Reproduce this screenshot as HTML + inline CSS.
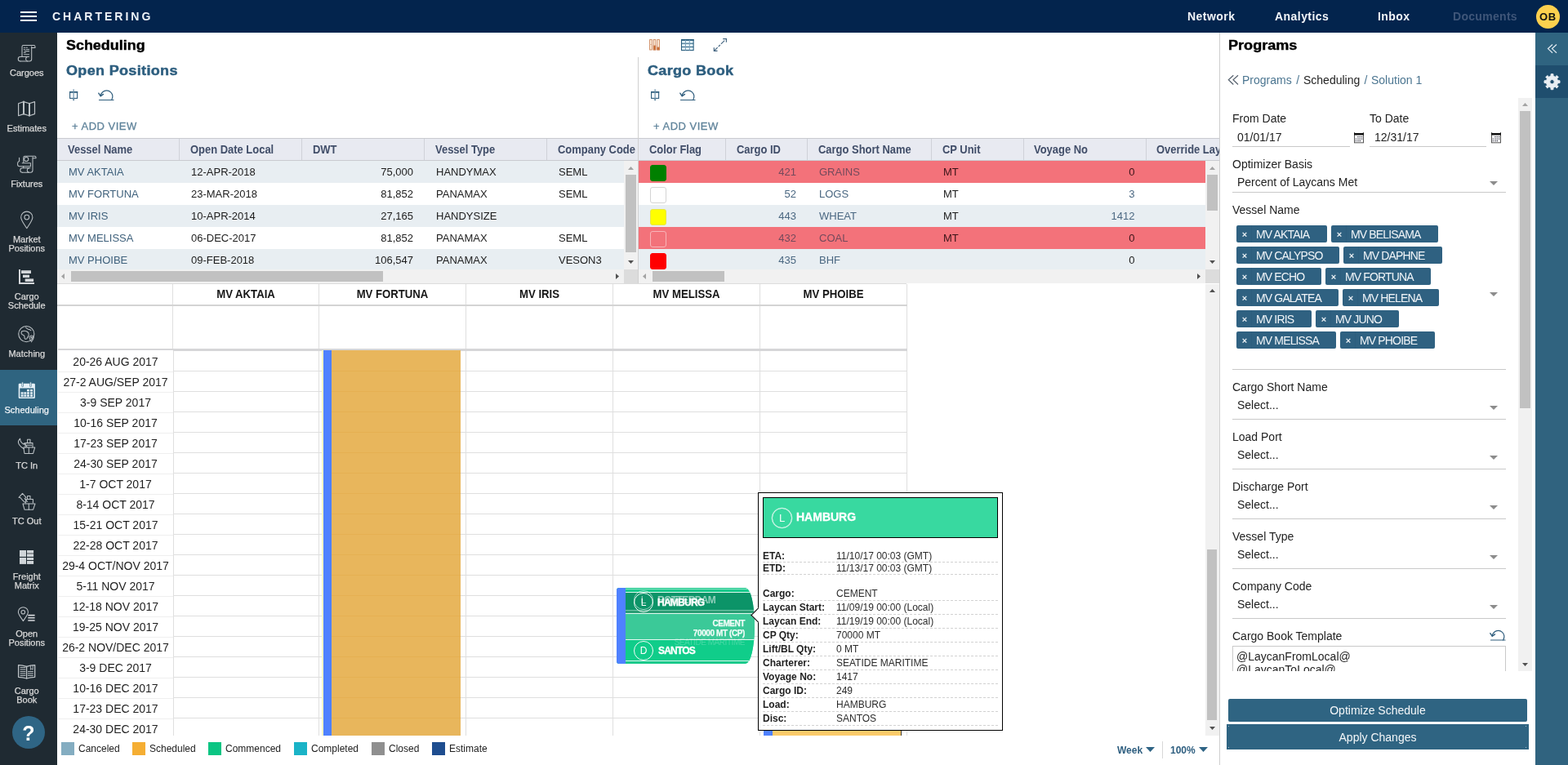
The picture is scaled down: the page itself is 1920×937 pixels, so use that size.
<!DOCTYPE html>
<html lang="en"><head><meta charset="utf-8"><title>Chartering - Scheduling</title>
<style>
*{box-sizing:border-box;margin:0;padding:0}
html,body{width:1920px;height:937px;overflow:hidden;background:#fff}
body{font-family:"Liberation Sans",Arial,sans-serif;font-size:14px;color:#222}
#root{position:relative;width:1920px;height:937px;overflow:hidden;background:#fff}
.t{position:absolute;white-space:nowrap}
.b{position:absolute}
.abs{position:absolute}
svg{position:absolute;overflow:visible}
</style></head><body><div id="root">
<header class="b" style="left:0;top:0;width:1920px;height:40px;background:#03244d">
<div class="b" style="left:25px;top:14px;width:20px;height:2px;background:#fff;"></div>
<div class="b" style="left:25px;top:19px;width:20px;height:2px;background:#fff;"></div>
<div class="b" style="left:25px;top:24px;width:20px;height:2px;background:#fff;"></div>
<div class="t" style="left:64px;top:11px;font-size:14px;line-height:18px;color:#eef2f7;font-weight:bold;letter-spacing:3px;">CHARTERING</div>
<div class="t" style="left:1454px;top:10.75px;font-size:14px;line-height:18px;color:#f2f5f9;font-weight:bold;letter-spacing:0.45px;">Network</div>
<div class="t" style="left:1561px;top:10.75px;font-size:14px;line-height:18px;color:#f2f5f9;font-weight:bold;letter-spacing:0.45px;">Analytics</div>
<div class="t" style="left:1687px;top:10.75px;font-size:14px;line-height:18px;color:#f2f5f9;font-weight:bold;letter-spacing:0.45px;">Inbox</div>
<div class="t" style="left:1779px;top:10.75px;font-size:14px;line-height:18px;color:#3f5679;font-weight:bold;letter-spacing:0.3px;">Documents</div>
<div class="b" style="left:1880.5px;top:5.5px;width:29px;height:29px;border-radius:50%;background:#fdd04e"></div>
<div class="t" style="left:1880px;top:11.8px;font-size:13px;line-height:17px;color:#111;font-weight:bold;letter-spacing:0.6px;width:30.6px;text-align:center;">OB</div>
</header>
<nav class="b" style="left:0;top:40px;width:70px;height:897px;background:#1f2a32">
<div class="b" style="left:0px;top:413px;width:70px;height:68px;background:#2f6480;"></div>
<div class="t" style="left:0px;top:43px;font-size:11px;line-height:12px;color:#d9d9d9;width:65.5px;text-align:center;-webkit-text-stroke:.25px #d9d9d9;">Cargoes</div>
<div class="t" style="left:0px;top:111px;font-size:11px;line-height:12px;color:#d9d9d9;width:65.5px;text-align:center;-webkit-text-stroke:.25px #d9d9d9;">Estimates</div>
<div class="t" style="left:0px;top:179px;font-size:11px;line-height:12px;color:#d9d9d9;width:65.5px;text-align:center;-webkit-text-stroke:.25px #d9d9d9;">Fixtures</div>
<div class="t" style="left:0;top:247px;width:65.5px;text-align:center;font-size:11px;line-height:11px;padding-top:.5px;color:#d9d9d9;-webkit-text-stroke:.25px #d9d9d9">Market<br>Positions</div>
<div class="t" style="left:0;top:317px;width:65.5px;text-align:center;font-size:11px;line-height:11px;padding-top:.5px;color:#d9d9d9;-webkit-text-stroke:.25px #d9d9d9">Cargo<br>Schedule</div>
<div class="t" style="left:0px;top:387px;font-size:11px;line-height:12px;color:#d9d9d9;width:65.5px;text-align:center;-webkit-text-stroke:.25px #d9d9d9;">Matching</div>
<div class="t" style="left:0px;top:456px;font-size:11px;line-height:12px;color:#eef3f6;width:65.5px;text-align:center;-webkit-text-stroke:.25px #eef3f6;">Scheduling</div>
<div class="t" style="left:0px;top:524px;font-size:11px;line-height:12px;color:#d9d9d9;width:65.5px;text-align:center;-webkit-text-stroke:.25px #d9d9d9;">TC In</div>
<div class="t" style="left:0px;top:592px;font-size:11px;line-height:12px;color:#d9d9d9;width:65.5px;text-align:center;-webkit-text-stroke:.25px #d9d9d9;">TC Out</div>
<div class="t" style="left:0;top:660px;width:65.5px;text-align:center;font-size:11px;line-height:11px;padding-top:.5px;color:#d9d9d9;-webkit-text-stroke:.25px #d9d9d9">Freight<br>Matrix</div>
<div class="t" style="left:0;top:730px;width:65.5px;text-align:center;font-size:11px;line-height:11px;padding-top:.5px;color:#d9d9d9;-webkit-text-stroke:.25px #d9d9d9">Open<br>Positions</div>
<div class="t" style="left:0;top:800px;width:65.5px;text-align:center;font-size:11px;line-height:11px;padding-top:.5px;color:#d9d9d9;-webkit-text-stroke:.25px #d9d9d9">Cargo<br>Book</div>
<svg style="left:0;top:-40px" width="70" height="937" viewBox="0 0 70 937" fill="none" stroke="#bcc2c6" stroke-width="1.05" stroke-linejoin="round" stroke-linecap="round">
<!-- cargoes -->
<g>
<path d="M27 69.5V57.2q0-1.7 1.7-1.7H41.3q1.7 0 1.7 1.7V58.4H39"/>
<path d="M38.7 57V72.3q0 2.7-2.7 2.7H25"/>
<path d="M25 75a2.75 2.75 0 0 1 0-5.5H35.5"/>
<path d="M33.6 69.6a2.75 2.75 0 0 0 0 5.3"/>
<path d="M29.3 58.2h1.2M32 58.2h1.4M29.3 60.4h1.2M32 60.4h3.6M30 62.6h5.6M29.3 64.4h2M29.6 66.7h6" stroke="#aeb6bb"/>
</g>
<!-- estimates -->
<g stroke-width="1.2">
<path d="M22.6 126.7L29 124.6L36 126.7L42.5 124.6V139.6L36 141.7L29 139.6L22.6 141.7Z"/>
<path d="M29 124.6V139.6M36 126.7V141.7" stroke-width="2"/>
</g>
<!-- fixtures -->
<g>
<path d="M28.8 199V193q0-1.8 1.8-1.8H42.4q1.6 0 1.6 1.6V193.8H40.5"/>
<path d="M40 192.5V208.5q0 2.7-2.7 2.7H27.5"/>
<path d="M27.5 211.2a2.7 2.7 0 0 1 0-5.4H37"/>
<path d="M35.2 205.9a2.7 2.7 0 0 0 0 5.2"/>
<circle cx="32.2" cy="195" r="2.6"/>
<path d="M23.6 193.2v4.2M23.6 197.4q-2 .3-2 2.6v1.6q0 2.2 2.2 2.2H37.4V199.8H27.2"/>
<path d="M28.7 203.8v2"/>
</g>
<!-- market positions -->
<g>
<path d="M32.8 279.6C28.5 273 25.7 269.6 25.7 266.2a7.1 7.1 0 0 1 14.2 0C39.9 269.6 37.1 273 32.8 279.6Z"/>
<circle cx="32.8" cy="266.1" r="2.9"/>
</g>
<!-- cargo schedule -->
<g stroke="none" fill="#d3d6da">
<rect x="23" y="330" width="2" height="18"/><rect x="23" y="346" width="19" height="2"/>
<rect x="26" y="331.2" width="12" height="3.8"/><rect x="28" y="336.6" width="8" height="3.4"/><rect x="30.7" y="341.4" width="10.4" height="3.6"/>
</g>
<!-- matching -->
<g>
<circle cx="32.3" cy="409.1" r="9.6"/>
<path d="M31.5 401q1.5 1.6 3 2.2q2.2.2 3.4 1.4M26.5 406q2.5-1.2 5-.6q2 .4 3.2 2.2q.8 1.6.3 3.4q-.6 1.8-1.8 3.2q-1.2 1.6-2.6.8q-.8-1-.6-2.6q0-1.4-1.4-1.8q-2-.6-2.4-2.2q-.3-1.4.3-2.4Z"/>
<path d="M38.6 418.6q-2.6-3-2.6-5a2.6 2.6 0 0 1 5.2 0q0 2-2.6 5Z" stroke-width="1"/>
<circle cx="38.6" cy="413.4" r=".7"/>
</g>
<!-- scheduling -->
<g stroke="none" fill="#e6f1f8">
<path d="M22.7 471q0-1.2 1.2-1.2H41.7q1.2 0 1.2 1.2V486.8q0 1.2-1.2 1.2H23.9q-1.2 0-1.2-1.2ZM24.3 475.4V486.4H41.3V475.4Z" fill-rule="evenodd"/>
<rect x="26.7" y="467.8" width="1.8" height="6" rx=".9" stroke="#2f6480" stroke-width=".6"/>
<rect x="36.6" y="467.8" width="1.8" height="6" rx=".9" stroke="#2f6480" stroke-width=".6"/>
<rect x="33" y="477" width="3" height="2.4"/><rect x="37" y="477" width="3" height="2.4"/>
<rect x="25.6" y="480.3" width="3" height="2.4"/><rect x="29.3" y="480.3" width="3" height="2.4"/><rect x="33" y="480.3" width="3" height="2.4"/><rect x="37" y="480.3" width="3" height="2.4"/>
<rect x="25.6" y="483.4" width="3" height="2.4"/><rect x="29.3" y="483.4" width="3" height="2.4"/><rect x="33" y="483.4" width="3" height="2.4"/><rect x="37" y="483.4" width="3" height="2.4"/>
</g>
<!-- tc in -->
<g>
<path d="M30 555.4L28.8 548H42.7L40.6 555.4Z"/><path d="M35.3 548V555.4"/>
<path d="M31 548V542.6H40V548"/><path d="M32.6 545.3H38.6"/><path d="M33.6 542.6V538.3H37V542.6"/>
<path d="M24.6 537.2Q21 541 23.4 544.5Q26 548.3 29.4 549.8M24.6 537.2Q24.6 541.5 29.3 544.3L29.8 542.6L33.2 547.6"/>
</g>
<!-- tc out -->
<g>
<path d="M30 624.2L28 617H43L40.6 624.2Z"/><path d="M35.3 617V624.2"/>
<path d="M31.6 616V611.4H40.4V616"/><path d="M33.6 611.4V607.4H37V611.4"/>
<path d="M23 609.3L27.5 604.3L32 609.4L30.2 610.6L33.4 614.4M23 609.3L25.2 609.8Q27.3 613 30.5 615.2"/>
</g>
<!-- freight matrix -->
<g stroke="none" fill="#d0d5d9">
<rect x="24" y="674" width="8" height="7.9"/><rect x="24" y="683" width="8" height="7.9"/>
<rect x="33" y="674" width="8.1" height="3"/><rect x="33" y="677" width="8.1" height="2" fill="#8e9398"/><rect x="33" y="679" width="8.1" height="2.9"/>
<rect x="33" y="683" width="8.1" height="3"/><rect x="33" y="687" width="8.1" height="3.9"/>
</g>
<!-- open positions -->
<g>
<path d="M28.4 760.6C25 755.3 22.4 752.6 22.4 749.7a6 6 0 0 1 12 0C34.4 752.6 31.8 755.3 28.4 760.6Z"/>
<circle cx="28.3" cy="749.7" r="2.3"/>
<path d="M34.3 753.6H42.6M34.3 756.8H42.6M34.3 760H42.6" stroke-width="1.6" stroke-linecap="butt" stroke="#d5d8db"/>
</g>
<!-- cargo book -->
<g>
<path d="M22.6 814.6Q27.5 814.6 32.6 816.3Q37.5 814.6 42.7 814.6V829.3Q37.5 829.3 32.6 831Q27.5 829.3 22.6 829.3Z" stroke-width="1.3"/>
<path d="M32.6 816.3V831" stroke-width="1.3"/>
<path d="M25 817.6H31M25 820H31M25 822.6H31M25 825H31M25 827.4H31M34.4 822.6H40.4M34.4 825H40.4M34.4 827.4H40.4" stroke-width="1"/>
<path d="M37.4 815.6V820.3L38.8 819L40.2 820.3V815" stroke-width=".9"/>
</g>
</svg>
<div class="b" style="left:15px;top:837px;width:40px;height:40px;border-radius:50%;background:#2f6585"></div>
<div class="t" style="left:15px;top:843.5px;font-size:25px;line-height:28px;color:#fff;font-weight:bold;width:40px;text-align:center;">?</div>
</nav>
<main class="b" style="left:70px;top:40px;width:1424px;height:897px;background:#fff">
<div class="t" style="left:10.5px;top:6px;font-size:16px;line-height:20px;color:#000;font-weight:bold;transform:scaleX(1.12);transform-origin:0 50%;-webkit-text-stroke:0.4px #000;">Scheduling</div>
<div class="t" style="left:10.5px;top:36.7px;font-size:16px;line-height:20px;color:#2d5e7f;font-weight:bold;letter-spacing:0.3px;transform:scaleX(1.125);transform-origin:0 50%;-webkit-text-stroke:0.45px #2d5e7f;">Open Positions</div>
<div class="t" style="left:722.5px;top:36.7px;font-size:16px;line-height:20px;color:#2d5e7f;font-weight:bold;letter-spacing:0.3px;transform:scaleX(1.125);transform-origin:0 50%;-webkit-text-stroke:0.45px #2d5e7f;">Cargo Book</div>
<div class="t" style="left:18px;top:105.5px;font-size:13px;line-height:17px;color:#62859c;letter-spacing:0.5px;-webkit-text-stroke:.3px #62859c;">+ ADD VIEW</div>
<div class="t" style="left:730px;top:105.5px;font-size:13px;line-height:17px;color:#62859c;letter-spacing:0.5px;-webkit-text-stroke:.3px #62859c;">+ ADD VIEW</div>
<svg style="left:-70px;top:-40px" width="1494" height="200" viewBox="0 0 1494 200" fill="none" stroke="#2f5d7d" stroke-width="1.2">
<g id="pin1">
<rect x="85.6" y="112.6" width="9" height="7.8" stroke-width="1.1"/>
<path d="M85 112.8H95.2" stroke-width="1.8"/>
<path d="M90.1 109.3V122.5" stroke="#6f93ab"/>
<path d="M88.6 121.4L90.1 123.8L91.6 121.4Z" fill="#5f86a0" stroke="none"/>
</g>
<g id="undo1" stroke-linecap="round">
<path d="M123.2 117.4A7.4 7.4 0 0 1 137.9 117.6Q137.9 120.4 136.6 122.5"/>
<path d="M121.5 122.5H139"/>
<path d="M120.8 114.2L123.2 117.8L126.5 115.4" stroke-width="1.4"/>
</g>
<g transform="translate(712 0)">
<rect x="85.6" y="112.6" width="9" height="7.8" stroke-width="1.1"/>
<path d="M85 112.8H95.2" stroke-width="1.8"/>
<path d="M90.1 109.3V122.5" stroke="#6f93ab"/>
<path d="M88.6 121.4L90.1 123.8L91.6 121.4Z" fill="#5f86a0" stroke="none"/>
<g stroke-linecap="round">
<path d="M123.2 117.4A7.4 7.4 0 0 1 137.9 117.6Q137.9 120.4 136.6 122.5"/>
<path d="M121.5 122.5H139"/>
<path d="M120.8 114.2L123.2 117.8L126.5 115.4" stroke-width="1.4"/>
</g>
</g>
<!-- columns icon -->
<g stroke="#cc8357" stroke-width=".9" fill="#fff4e4">
<rect x="795.6" y="48.6" width="2.6" height="12.4"/><rect x="800.2" y="48.6" width="2.6" height="12.4"/><rect x="804.8" y="48.6" width="2.6" height="12.4"/>
<rect x="800.2" y="56" width="2.6" height="5" fill="#c96a2e"/><rect x="804.8" y="58" width="2.6" height="3" fill="#c96a2e"/>
<path d="M795.6 54.5H798.2" stroke="#e0b59c"/>
</g>
<!-- grid icon -->
<g stroke="#2a5f7f" stroke-width="1.1">
<rect x="834.5" y="48.6" width="14.6" height="13" fill="#e4f5fb"/>
<path d="M834 49H849.6" stroke-width="1.8"/>
<path d="M834.5 53.3H849.1M834.5 57.5H849.1"/>
<path d="M839.4 49V61.6M844.3 49V61.6" stroke="#7fa3bd"/>
</g>
<!-- expand icon -->
<g stroke="#41637f" stroke-width="1.15">
<path d="M874.4 62.4L889.3 47.6" stroke-dasharray="6 1.5 3 1.5 6"/>
<path d="M885.2 47.6H889.4V51.8"/>
<path d="M874.3 58.2V62.4H878.5"/>
</g>
</svg>
<div class="b" style="left:711px;top:30px;width:1px;height:277px;background:#d0d0d0;"></div>
<section class="b" style="left:0;top:0;width:711px;height:307px;overflow:hidden">
<div class="b" style="left:0px;top:129px;width:711px;height:1px;background:#c9cbd0;"></div><div class="b" style="left:0px;top:130px;width:711px;height:26px;background:#e8eaf1;"></div><div class="b" style="left:0px;top:156px;width:711px;height:1px;background:#c9cbd0;"></div><div class="t" style="left:13px;top:133.5px;font-size:14px;line-height:18px;color:#414e69;font-weight:bold;transform:scaleX(.925);transform-origin:0 50%;">Vessel Name</div><div class="b" style="left:149px;top:130px;width:1px;height:26px;background:#cfd1d8;"></div><div class="t" style="left:163px;top:133.5px;font-size:14px;line-height:18px;color:#414e69;font-weight:bold;transform:scaleX(.925);transform-origin:0 50%;">Open Date Local</div><div class="b" style="left:299px;top:130px;width:1px;height:26px;background:#cfd1d8;"></div><div class="t" style="left:313px;top:133.5px;font-size:14px;line-height:18px;color:#414e69;font-weight:bold;transform:scaleX(.925);transform-origin:0 50%;">DWT</div><div class="b" style="left:449px;top:130px;width:1px;height:26px;background:#cfd1d8;"></div><div class="t" style="left:463px;top:133.5px;font-size:14px;line-height:18px;color:#414e69;font-weight:bold;transform:scaleX(.925);transform-origin:0 50%;">Vessel Type</div><div class="b" style="left:599px;top:130px;width:1px;height:26px;background:#cfd1d8;"></div><div class="t" style="left:613px;top:133.5px;font-size:14px;line-height:18px;color:#414e69;font-weight:bold;transform:scaleX(.925);transform-origin:0 50%;">Company Code</div>
<div class="b" style="left:0;top:157px;width:694px;height:133px;overflow:hidden">
<div class="b" style="left:0px;top:0px;width:694px;height:27px;background:#e8eef2;"></div>
<div class="t" style="left:14px;top:4.5px;font-size:13px;line-height:17px;color:#3f617c;">MV AKTAIA</div>
<div class="t" style="left:164px;top:4.5px;font-size:13px;line-height:17px;color:#1c1c1c;">12-APR-2018</div>
<div class="t" style="left:300px;top:4.5px;font-size:13px;line-height:17px;color:#1c1c1c;width:136px;text-align:right;">75,000</div>
<div class="t" style="left:464px;top:4.5px;font-size:13px;line-height:17px;color:#1c1c1c;">HANDYMAX</div>
<div class="t" style="left:614px;top:4.5px;font-size:13px;line-height:17px;color:#1c1c1c;">SEML</div>
<div class="t" style="left:14px;top:31.5px;font-size:13px;line-height:17px;color:#3f617c;">MV FORTUNA</div>
<div class="t" style="left:164px;top:31.5px;font-size:13px;line-height:17px;color:#1c1c1c;">23-MAR-2018</div>
<div class="t" style="left:300px;top:31.5px;font-size:13px;line-height:17px;color:#1c1c1c;width:136px;text-align:right;">81,852</div>
<div class="t" style="left:464px;top:31.5px;font-size:13px;line-height:17px;color:#1c1c1c;">PANAMAX</div>
<div class="t" style="left:614px;top:31.5px;font-size:13px;line-height:17px;color:#1c1c1c;">SEML</div>
<div class="b" style="left:0px;top:54px;width:694px;height:27px;background:#e8eef2;"></div>
<div class="t" style="left:14px;top:58.5px;font-size:13px;line-height:17px;color:#3f617c;">MV IRIS</div>
<div class="t" style="left:164px;top:58.5px;font-size:13px;line-height:17px;color:#1c1c1c;">10-APR-2014</div>
<div class="t" style="left:300px;top:58.5px;font-size:13px;line-height:17px;color:#1c1c1c;width:136px;text-align:right;">27,165</div>
<div class="t" style="left:464px;top:58.5px;font-size:13px;line-height:17px;color:#1c1c1c;">HANDYSIZE</div>
<div class="t" style="left:14px;top:85.5px;font-size:13px;line-height:17px;color:#3f617c;">MV MELISSA</div>
<div class="t" style="left:164px;top:85.5px;font-size:13px;line-height:17px;color:#1c1c1c;">06-DEC-2017</div>
<div class="t" style="left:300px;top:85.5px;font-size:13px;line-height:17px;color:#1c1c1c;width:136px;text-align:right;">81,852</div>
<div class="t" style="left:464px;top:85.5px;font-size:13px;line-height:17px;color:#1c1c1c;">PANAMAX</div>
<div class="t" style="left:614px;top:85.5px;font-size:13px;line-height:17px;color:#1c1c1c;">SEML</div>
<div class="b" style="left:0px;top:108px;width:694px;height:27px;background:#e8eef2;"></div>
<div class="t" style="left:14px;top:112.5px;font-size:13px;line-height:17px;color:#3f617c;">MV PHOIBE</div>
<div class="t" style="left:164px;top:112.5px;font-size:13px;line-height:17px;color:#1c1c1c;">09-FEB-2018</div>
<div class="t" style="left:300px;top:112.5px;font-size:13px;line-height:17px;color:#1c1c1c;width:136px;text-align:right;">106,547</div>
<div class="t" style="left:464px;top:112.5px;font-size:13px;line-height:17px;color:#1c1c1c;">PANAMAX</div>
<div class="t" style="left:614px;top:112.5px;font-size:13px;line-height:17px;color:#1c1c1c;">VESON3</div>
</div>
<div class="b" style="left:694px;top:157px;width:17px;height:133px;background:#f1f1f1;"></div>
<div class="b" style="left:696px;top:174px;width:13px;height:95px;background:#c1c1c1;"></div>
<svg style="left:694px;top:157px" width="17" height="133"><path d="M5 11 L8.5 7 L12 11Z" fill="#a3a3a3"/><path d="M5 122 L8.5 126 L12 122Z" fill="#505050"/></svg>
<div class="b" style="left:0px;top:290px;width:694px;height:17px;background:#f1f1f1;"></div>
<div class="b" style="left:17px;top:292px;width:382px;height:13px;background:#c1c1c1;"></div>
<div class="b" style="left:694px;top:290px;width:17px;height:17px;background:#dcdcdc;"></div>
<svg style="left:0;top:290px" width="694" height="17"><path d="M9 5 L5 8.5 L9 12Z" fill="#a3a3a3"/><path d="M684 5 L688 8.5 L684 12Z" fill="#505050"/></svg>
</section>
<section class="b" style="left:712px;top:0;width:712px;height:307px;overflow:hidden">
<div class="b" style="left:0px;top:129px;width:712px;height:1px;background:#c9cbd0;"></div><div class="b" style="left:0px;top:130px;width:712px;height:26px;background:#e8eaf1;"></div><div class="b" style="left:0px;top:156px;width:712px;height:1px;background:#c9cbd0;"></div><div class="t" style="left:13px;top:133.5px;font-size:14px;line-height:18px;color:#414e69;font-weight:bold;transform:scaleX(.925);transform-origin:0 50%;">Color Flag</div><div class="b" style="left:106px;top:130px;width:1px;height:26px;background:#cfd1d8;"></div><div class="t" style="left:120px;top:133.5px;font-size:14px;line-height:18px;color:#414e69;font-weight:bold;transform:scaleX(.925);transform-origin:0 50%;">Cargo ID</div><div class="b" style="left:206px;top:130px;width:1px;height:26px;background:#cfd1d8;"></div><div class="t" style="left:220px;top:133.5px;font-size:14px;line-height:18px;color:#414e69;font-weight:bold;transform:scaleX(.925);transform-origin:0 50%;">Cargo Short Name</div><div class="b" style="left:358px;top:130px;width:1px;height:26px;background:#cfd1d8;"></div><div class="t" style="left:372px;top:133.5px;font-size:14px;line-height:18px;color:#414e69;font-weight:bold;transform:scaleX(.925);transform-origin:0 50%;">CP Unit</div><div class="b" style="left:471px;top:130px;width:1px;height:26px;background:#cfd1d8;"></div><div class="t" style="left:484px;top:133.5px;font-size:14px;line-height:18px;color:#414e69;font-weight:bold;transform:scaleX(.925);transform-origin:0 50%;">Voyage No</div><div class="b" style="left:621px;top:130px;width:1px;height:26px;background:#cfd1d8;"></div><div class="t" style="left:634px;top:133.5px;font-size:14px;line-height:18px;color:#414e69;font-weight:bold;transform:scaleX(.925);transform-origin:0 50%;">Override Laycan</div>
<div class="b" style="left:0;top:157px;width:694px;height:133px;overflow:hidden">
<div class="b" style="left:0px;top:0px;width:694px;height:27px;background:#f3727a;"></div>
<div class="b" style="left:14px;top:5px;width:20px;height:20px;border-radius:3px;background:#008000;border:1px solid #008000"></div>
<div class="t" style="left:107px;top:4.5px;font-size:13px;line-height:17px;color:#744a5c;width:86px;text-align:right;">421</div>
<div class="t" style="left:221px;top:4.5px;font-size:13px;line-height:17px;color:#744a5c;">GRAINS</div>
<div class="t" style="left:373px;top:4.5px;font-size:13px;line-height:17px;color:#3a1418;">MT</div>
<div class="t" style="left:471.5px;top:4.5px;font-size:13px;line-height:17px;color:#3a1418;width:136px;text-align:right;">0</div>
<div class="b" style="left:14px;top:32px;width:20px;height:20px;border-radius:3px;background:#fff;border:1px solid #d4d4d4"></div>
<div class="t" style="left:107px;top:31.5px;font-size:13px;line-height:17px;color:#4b6882;width:86px;text-align:right;">52</div>
<div class="t" style="left:221px;top:31.5px;font-size:13px;line-height:17px;color:#4b6882;">LOGS</div>
<div class="t" style="left:373px;top:31.5px;font-size:13px;line-height:17px;color:#1c1c1c;">MT</div>
<div class="t" style="left:471.5px;top:31.5px;font-size:13px;line-height:17px;color:#4b6882;width:136px;text-align:right;">3</div>
<div class="b" style="left:0px;top:54px;width:694px;height:27px;background:#e8eef2;"></div>
<div class="b" style="left:14px;top:59px;width:20px;height:20px;border-radius:3px;background:#ffff00;border:1px solid #e6e64a"></div>
<div class="t" style="left:107px;top:58.5px;font-size:13px;line-height:17px;color:#4b6882;width:86px;text-align:right;">443</div>
<div class="t" style="left:221px;top:58.5px;font-size:13px;line-height:17px;color:#4b6882;">WHEAT</div>
<div class="t" style="left:373px;top:58.5px;font-size:13px;line-height:17px;color:#1c1c1c;">MT</div>
<div class="t" style="left:471.5px;top:58.5px;font-size:13px;line-height:17px;color:#4b6882;width:136px;text-align:right;">1412</div>
<div class="b" style="left:0px;top:81px;width:694px;height:27px;background:#f3727a;"></div>
<div class="b" style="left:14px;top:86px;width:20px;height:20px;border-radius:3px;background:#f3727a;border:1px solid #f8b4b8"></div>
<div class="t" style="left:107px;top:85.5px;font-size:13px;line-height:17px;color:#744a5c;width:86px;text-align:right;">432</div>
<div class="t" style="left:221px;top:85.5px;font-size:13px;line-height:17px;color:#744a5c;">COAL</div>
<div class="t" style="left:373px;top:85.5px;font-size:13px;line-height:17px;color:#3a1418;">MT</div>
<div class="t" style="left:471.5px;top:85.5px;font-size:13px;line-height:17px;color:#3a1418;width:136px;text-align:right;">0</div>
<div class="b" style="left:0px;top:108px;width:694px;height:27px;background:#e8eef2;"></div>
<div class="b" style="left:14px;top:113px;width:20px;height:20px;border-radius:3px;background:#ff0000;border:1px solid #ff0000"></div>
<div class="t" style="left:107px;top:112.5px;font-size:13px;line-height:17px;color:#4b6882;width:86px;text-align:right;">435</div>
<div class="t" style="left:221px;top:112.5px;font-size:13px;line-height:17px;color:#4b6882;">BHF</div>
<div class="t" style="left:471.5px;top:112.5px;font-size:13px;line-height:17px;color:#1c1c1c;width:136px;text-align:right;">0</div>
</div>
<div class="b" style="left:694px;top:157px;width:17px;height:133px;background:#f1f1f1;"></div>
<div class="b" style="left:696px;top:174px;width:13px;height:44px;background:#c1c1c1;"></div>
<svg style="left:694px;top:157px" width="17" height="133"><path d="M5 11 L8.5 7 L12 11Z" fill="#a3a3a3"/><path d="M5 122 L8.5 126 L12 122Z" fill="#505050"/></svg>
<div class="b" style="left:0px;top:290px;width:694px;height:17px;background:#f1f1f1;"></div>
<div class="b" style="left:17px;top:292px;width:88px;height:13px;background:#c1c1c1;"></div>
<div class="b" style="left:694px;top:290px;width:17px;height:17px;background:#dcdcdc;"></div>
<svg style="left:0;top:290px" width="694" height="17"><path d="M9 5 L5 8.5 L9 12Z" fill="#a3a3a3"/><path d="M684 5 L688 8.5 L684 12Z" fill="#505050"/></svg>
</section>
<section class="b" style="left:0;top:307px;width:1424px;height:554px;overflow:hidden">
<div class="b" style="left:0px;top:0px;width:1040px;height:1px;background:#dcdcdc;"></div>
<div class="b" style="left:320px;top:1px;width:1px;height:554px;background:#dfdfdf;"></div>
<div class="b" style="left:500px;top:1px;width:1px;height:554px;background:#dfdfdf;"></div>
<div class="b" style="left:680px;top:1px;width:1px;height:554px;background:#dfdfdf;"></div>
<div class="b" style="left:860px;top:1px;width:1px;height:554px;background:#dfdfdf;"></div>
<div class="b" style="left:1040px;top:1px;width:1px;height:554px;background:#dfdfdf;"></div>
<div class="b" style="left:141px;top:1px;width:1px;height:80px;background:#dfdfdf;"></div>
<div class="b" style="left:142px;top:81px;width:1px;height:474px;background:#dfdfdf;"></div>
<div class="t" style="left:142px;top:3.5px;font-size:14px;line-height:18px;color:#161616;font-weight:bold;width:178px;text-align:center;transform:scaleX(.94);">MV AKTAIA</div>
<div class="t" style="left:321px;top:3.5px;font-size:14px;line-height:18px;color:#161616;font-weight:bold;width:179px;text-align:center;transform:scaleX(.94);">MV FORTUNA</div>
<div class="t" style="left:501px;top:3.5px;font-size:14px;line-height:18px;color:#161616;font-weight:bold;width:179px;text-align:center;transform:scaleX(.94);">MV IRIS</div>
<div class="t" style="left:681px;top:3.5px;font-size:14px;line-height:18px;color:#161616;font-weight:bold;width:179px;text-align:center;transform:scaleX(.94);">MV MELISSA</div>
<div class="t" style="left:861px;top:3.5px;font-size:14px;line-height:18px;color:#161616;font-weight:bold;width:179px;text-align:center;transform:scaleX(.94);">MV PHOIBE</div>
<div class="b" style="left:0px;top:26px;width:1041px;height:2px;background:#d4d4d4;"></div>
<div class="b" style="left:1px;top:80px;width:142px;height:2px;background:#d6d6d8;"></div>
<div class="b" style="left:142px;top:80px;width:899px;height:3px;background:#d6d6d8;"></div>
<div class="t" style="left:0px;top:87px;font-size:14px;line-height:18px;color:#1f1f1f;width:143px;text-align:center;">20-26 AUG 2017</div>
<div class="b" style="left:1px;top:108px;width:141px;height:1px;background:#efefef;"></div>
<div class="b" style="left:143px;top:107px;width:897px;height:1px;background:#dfdfdf;"></div>
<div class="t" style="left:0px;top:112px;font-size:14px;line-height:18px;color:#1f1f1f;width:143px;text-align:center;">27-2 AUG/SEP 2017</div>
<div class="b" style="left:1px;top:133px;width:141px;height:1px;background:#efefef;"></div>
<div class="b" style="left:143px;top:132px;width:897px;height:1px;background:#dfdfdf;"></div>
<div class="t" style="left:0px;top:137px;font-size:14px;line-height:18px;color:#1f1f1f;width:143px;text-align:center;">3-9 SEP 2017</div>
<div class="b" style="left:1px;top:158px;width:141px;height:1px;background:#efefef;"></div>
<div class="b" style="left:143px;top:157px;width:897px;height:1px;background:#dfdfdf;"></div>
<div class="t" style="left:0px;top:162px;font-size:14px;line-height:18px;color:#1f1f1f;width:143px;text-align:center;">10-16 SEP 2017</div>
<div class="b" style="left:1px;top:183px;width:141px;height:1px;background:#efefef;"></div>
<div class="b" style="left:143px;top:182px;width:897px;height:1px;background:#dfdfdf;"></div>
<div class="t" style="left:0px;top:187px;font-size:14px;line-height:18px;color:#1f1f1f;width:143px;text-align:center;">17-23 SEP 2017</div>
<div class="b" style="left:1px;top:208px;width:141px;height:1px;background:#efefef;"></div>
<div class="b" style="left:143px;top:207px;width:897px;height:1px;background:#dfdfdf;"></div>
<div class="t" style="left:0px;top:212px;font-size:14px;line-height:18px;color:#1f1f1f;width:143px;text-align:center;">24-30 SEP 2017</div>
<div class="b" style="left:1px;top:233px;width:141px;height:1px;background:#efefef;"></div>
<div class="b" style="left:143px;top:232px;width:897px;height:1px;background:#dfdfdf;"></div>
<div class="t" style="left:0px;top:237px;font-size:14px;line-height:18px;color:#1f1f1f;width:143px;text-align:center;">1-7 OCT 2017</div>
<div class="b" style="left:1px;top:258px;width:141px;height:1px;background:#efefef;"></div>
<div class="b" style="left:143px;top:257px;width:897px;height:1px;background:#dfdfdf;"></div>
<div class="t" style="left:0px;top:262px;font-size:14px;line-height:18px;color:#1f1f1f;width:143px;text-align:center;">8-14 OCT 2017</div>
<div class="b" style="left:1px;top:283px;width:141px;height:1px;background:#efefef;"></div>
<div class="b" style="left:143px;top:282px;width:897px;height:1px;background:#dfdfdf;"></div>
<div class="t" style="left:0px;top:287px;font-size:14px;line-height:18px;color:#1f1f1f;width:143px;text-align:center;">15-21 OCT 2017</div>
<div class="b" style="left:1px;top:308px;width:141px;height:1px;background:#efefef;"></div>
<div class="b" style="left:143px;top:307px;width:897px;height:1px;background:#dfdfdf;"></div>
<div class="t" style="left:0px;top:312px;font-size:14px;line-height:18px;color:#1f1f1f;width:143px;text-align:center;">22-28 OCT 2017</div>
<div class="b" style="left:1px;top:333px;width:141px;height:1px;background:#efefef;"></div>
<div class="b" style="left:143px;top:332px;width:897px;height:1px;background:#dfdfdf;"></div>
<div class="t" style="left:0px;top:337px;font-size:14px;line-height:18px;color:#1f1f1f;width:143px;text-align:center;">29-4 OCT/NOV 2017</div>
<div class="b" style="left:1px;top:358px;width:141px;height:1px;background:#efefef;"></div>
<div class="b" style="left:143px;top:357px;width:897px;height:1px;background:#dfdfdf;"></div>
<div class="t" style="left:0px;top:362px;font-size:14px;line-height:18px;color:#1f1f1f;width:143px;text-align:center;">5-11 NOV 2017</div>
<div class="b" style="left:1px;top:383px;width:141px;height:1px;background:#efefef;"></div>
<div class="b" style="left:143px;top:382px;width:897px;height:1px;background:#dfdfdf;"></div>
<div class="t" style="left:0px;top:387px;font-size:14px;line-height:18px;color:#1f1f1f;width:143px;text-align:center;">12-18 NOV 2017</div>
<div class="b" style="left:1px;top:408px;width:141px;height:1px;background:#efefef;"></div>
<div class="b" style="left:143px;top:407px;width:897px;height:1px;background:#dfdfdf;"></div>
<div class="t" style="left:0px;top:412px;font-size:14px;line-height:18px;color:#1f1f1f;width:143px;text-align:center;">19-25 NOV 2017</div>
<div class="b" style="left:1px;top:433px;width:141px;height:1px;background:#efefef;"></div>
<div class="b" style="left:143px;top:432px;width:897px;height:1px;background:#dfdfdf;"></div>
<div class="t" style="left:0px;top:437px;font-size:14px;line-height:18px;color:#1f1f1f;width:143px;text-align:center;">26-2 NOV/DEC 2017</div>
<div class="b" style="left:1px;top:458px;width:141px;height:1px;background:#efefef;"></div>
<div class="b" style="left:143px;top:457px;width:897px;height:1px;background:#dfdfdf;"></div>
<div class="t" style="left:0px;top:462px;font-size:14px;line-height:18px;color:#1f1f1f;width:143px;text-align:center;">3-9 DEC 2017</div>
<div class="b" style="left:1px;top:483px;width:141px;height:1px;background:#efefef;"></div>
<div class="b" style="left:143px;top:482px;width:897px;height:1px;background:#dfdfdf;"></div>
<div class="t" style="left:0px;top:487px;font-size:14px;line-height:18px;color:#1f1f1f;width:143px;text-align:center;">10-16 DEC 2017</div>
<div class="b" style="left:1px;top:508px;width:141px;height:1px;background:#efefef;"></div>
<div class="b" style="left:143px;top:507px;width:897px;height:1px;background:#dfdfdf;"></div>
<div class="t" style="left:0px;top:512px;font-size:14px;line-height:18px;color:#1f1f1f;width:143px;text-align:center;">17-23 DEC 2017</div>
<div class="b" style="left:1px;top:533px;width:141px;height:1px;background:#efefef;"></div>
<div class="b" style="left:143px;top:532px;width:897px;height:1px;background:#dfdfdf;"></div>
<div class="t" style="left:0px;top:537px;font-size:14px;line-height:18px;color:#1f1f1f;width:143px;text-align:center;">24-30 DEC 2017</div>
<div class="b" style="left:1px;top:558px;width:141px;height:1px;background:#efefef;"></div>
<div class="b" style="left:143px;top:557px;width:897px;height:1px;background:#dfdfdf;"></div>
<div class="b" style="left:324px;top:82px;width:2px;height:472px;background:#fff5c6;"></div>
<div class="b" style="left:326px;top:82px;width:10px;height:472px;background:#4f81ff;"></div>
<div class="b" style="left:336px;top:82px;width:158px;height:472px;background:#e8b65c;"></div>
<div class="b" style="left:336px;top:107px;width:158px;height:1px;background:#e5b052;"></div>
<div class="b" style="left:336px;top:132px;width:158px;height:1px;background:#e5b052;"></div>
<div class="b" style="left:336px;top:157px;width:158px;height:1px;background:#e5b052;"></div>
<div class="b" style="left:336px;top:182px;width:158px;height:1px;background:#e5b052;"></div>
<div class="b" style="left:336px;top:207px;width:158px;height:1px;background:#e5b052;"></div>
<div class="b" style="left:336px;top:232px;width:158px;height:1px;background:#e5b052;"></div>
<div class="b" style="left:336px;top:257px;width:158px;height:1px;background:#e5b052;"></div>
<div class="b" style="left:336px;top:282px;width:158px;height:1px;background:#e5b052;"></div>
<div class="b" style="left:336px;top:307px;width:158px;height:1px;background:#e5b052;"></div>
<div class="b" style="left:336px;top:332px;width:158px;height:1px;background:#e5b052;"></div>
<div class="b" style="left:336px;top:357px;width:158px;height:1px;background:#e5b052;"></div>
<div class="b" style="left:336px;top:382px;width:158px;height:1px;background:#e5b052;"></div>
<div class="b" style="left:336px;top:407px;width:158px;height:1px;background:#e5b052;"></div>
<div class="b" style="left:336px;top:432px;width:158px;height:1px;background:#e5b052;"></div>
<div class="b" style="left:336px;top:457px;width:158px;height:1px;background:#e5b052;"></div>
<div class="b" style="left:336px;top:482px;width:158px;height:1px;background:#e5b052;"></div>
<div class="b" style="left:336px;top:507px;width:158px;height:1px;background:#e5b052;"></div>
<div class="b" style="left:336px;top:532px;width:158px;height:1px;background:#e5b052;"></div>
<div class="b" style="left:336px;top:557px;width:158px;height:1px;background:#e5b052;"></div>
<div class="b" style="left:865px;top:547px;width:11px;height:10px;background:#4f81ff;"></div>
<div class="b" style="left:876px;top:547px;width:157px;height:10px;background:#fbcb6a;"></div>
<div class="b" style="left:1033px;top:547px;width:1px;height:7px;background:#3c3a32;"></div>
<div class="b" style="left:685px;top:373px;width:169px;height:93px;overflow:hidden;border-radius:3px 11px 11px 3px / 3px 46px 46px 3px;background:#18c98b;font-weight:bold;color:#fff">
<div class="b" style="left:0;top:0;width:11px;height:93px;background:#4f81ff"></div>
<div class="b" style="left:11px;top:1px;width:158px;height:1px;background:#8fe6c6"></div>
<div class="b" style="left:11px;top:5px;width:158px;height:1px;background:#d9f7ec"></div>
<div class="b" style="left:11px;top:6px;width:158px;height:21px;background:#0c9468"></div>
<div class="b" style="left:11px;top:27px;width:158px;height:1px;background:#74c9ab"></div>
<div class="b" style="left:11px;top:28px;width:158px;height:3px;background:#2a9d74"></div>
<div class="b" style="left:11px;top:31px;width:158px;height:1px;background:#e4faf2"></div>
<div class="b" style="left:11px;top:32px;width:158px;height:31px;background:#3bc998"></div>
<div class="b" style="left:11px;top:63px;width:158px;height:1px;background:#e4faf2"></div>
<div class="b" style="left:11px;top:64px;width:158px;height:25px;background:#10cd8a"></div>
<div class="b" style="left:11px;top:89px;width:158px;height:1px;background:#d9f7ec"></div>
<div class="b" style="left:21px;top:3px;width:24px;height:24px;border:1px solid rgba(255,255,255,.55);border-radius:50%"></div>
<div class="b" style="left:21px;top:5.5px;width:24px;height:24px;border:1px solid #f2fbf8;border-radius:50%"></div>
<div class="t" style="left:21px;top:8px;width:24px;text-align:center;font-size:12px;line-height:14px;font-weight:normal;color:rgba(255,255,255,.55)">L</div>
<div class="t" style="left:21px;top:11px;width:24px;text-align:center;font-size:12px;line-height:14px;font-weight:normal;color:#fff">L</div>
<div class="t" style="left:50px;top:7.5px;font-size:12px;line-height:14px;letter-spacing:-0.6px;color:rgba(255,255,255,.55)">ROTTERDAM</div>
<div class="t" style="left:50px;top:11px;font-size:12px;line-height:14px;letter-spacing:-0.75px;-webkit-text-stroke:.3px #fff;color:#fff">HAMBURG</div>
<div class="t" style="left:57px;top:38px;width:100px;text-align:right;font-size:10px;line-height:12px;letter-spacing:-0.45px;-webkit-text-stroke:.25px #effcf7;color:#effcf7">CEMENT</div>
<div class="t" style="left:57px;top:49.5px;width:100px;text-align:right;font-size:10px;line-height:12px;letter-spacing:-0.4px;-webkit-text-stroke:.25px #effcf7;color:#effcf7">70000 MT (CP)</div>
<div class="t" style="left:37px;top:61px;width:120px;text-align:right;font-size:10px;line-height:12px;font-weight:normal;letter-spacing:-0.45px;color:rgba(255,255,255,.22)">SEATIDE MARITIME</div>
<div class="b" style="left:21px;top:65px;width:24px;height:24px;border:1px solid #f2fbf8;border-radius:50%"></div>
<div class="t" style="left:21px;top:70px;width:24px;text-align:center;font-size:12px;line-height:14px;font-weight:normal;color:#fff">D</div>
<div class="t" style="left:51px;top:70px;font-size:12px;line-height:14px;letter-spacing:-0.8px;-webkit-text-stroke:.3px #fff;color:#fff">SANTOS</div>
</div>
<div class="b" style="left:1406px;top:1px;width:17px;height:553px;background:#f1f1f1;"></div>
<div class="b" style="left:1407.5px;top:326px;width:12.5px;height:209px;background:#c1c1c1;"></div>
<svg style="left:1406px;top:1px" width="17" height="553"><path d="M5 10 L8.5 6 L12 10Z" fill="#505050"/><path d="M5 542 L8.5 546 L12 542Z" fill="#505050"/></svg>
</section>
<div class="b" style="left:858px;top:563px;width:300px;height:292px;background:#fff;border:1px solid #000;font-size:12px;color:#222">
<div class="b" style="left:-7px;top:143px;width:13px;height:13px;background:#fff;border-left:1px solid #000;border-bottom:1px solid #000;transform:rotate(45deg)"></div>
<div class="b" style="left:5px;top:5px;width:288px;height:50px;background:#38d9a0;border:1px solid #000"></div>
<div class="b" style="left:16px;top:18px;width:25px;height:25px;border:1px solid #f4fdfa;border-radius:50%;box-shadow:0 0 0 .3px rgba(255,255,255,.6)"></div>
<div class="t" style="left:16px;top:23px;width:25px;text-align:center;font-size:13px;line-height:16px;color:#f2fcf9">L</div>
<div class="t" style="left:46px;top:21px;font-size:14px;line-height:16px;font-weight:bold;-webkit-text-stroke:.3px #fff;color:#fff">HAMBURG</div>
<div class="t" style="left:5px;top:69.5px;line-height:15px;font-weight:bold;color:#1f1f1f">ETA:</div><div class="t" style="left:95px;top:69.5px;line-height:15px;color:#2b2b2b">11/10/17 00:03 (GMT)</div><div class="b" style="left:5px;top:84px;width:288px;height:0;border-top:1px dashed #d2d2d2"></div>
<div class="t" style="left:5px;top:84.5px;line-height:15px;font-weight:bold;color:#1f1f1f">ETD:</div><div class="t" style="left:95px;top:84.5px;line-height:15px;color:#2b2b2b">11/13/17 00:03 (GMT)</div><div class="b" style="left:5px;top:99px;width:288px;height:0;border-top:1px dashed #d2d2d2"></div>
<div class="t" style="left:5px;top:115.5px;line-height:15px;font-weight:bold;color:#1f1f1f">Cargo:</div><div class="t" style="left:95px;top:115.5px;line-height:15px;color:#2b2b2b">CEMENT</div><div class="b" style="left:5px;top:131px;width:288px;height:0;border-top:1px dashed #d2d2d2"></div>
<div class="t" style="left:5px;top:132.5px;line-height:15px;font-weight:bold;color:#1f1f1f">Laycan Start:</div><div class="t" style="left:95px;top:132.5px;line-height:15px;color:#2b2b2b">11/09/19 00:00 (Local)</div><div class="b" style="left:5px;top:148px;width:288px;height:0;border-top:1px dashed #d2d2d2"></div>
<div class="t" style="left:5px;top:149.5px;line-height:15px;font-weight:bold;color:#1f1f1f">Laycan End:</div><div class="t" style="left:95px;top:149.5px;line-height:15px;color:#2b2b2b">11/19/19 00:00 (Local)</div><div class="b" style="left:5px;top:165px;width:288px;height:0;border-top:1px dashed #d2d2d2"></div>
<div class="t" style="left:5px;top:166.5px;line-height:15px;font-weight:bold;color:#1f1f1f">CP Qty:</div><div class="t" style="left:95px;top:166.5px;line-height:15px;color:#2b2b2b">70000 MT</div><div class="b" style="left:5px;top:182px;width:288px;height:0;border-top:1px dashed #d2d2d2"></div>
<div class="t" style="left:5px;top:183.5px;line-height:15px;font-weight:bold;color:#1f1f1f">Lift/BL Qty:</div><div class="t" style="left:95px;top:183.5px;line-height:15px;color:#2b2b2b">0 MT</div><div class="b" style="left:5px;top:199px;width:288px;height:0;border-top:1px dashed #d2d2d2"></div>
<div class="t" style="left:5px;top:200.5px;line-height:15px;font-weight:bold;color:#1f1f1f">Charterer:</div><div class="t" style="left:95px;top:200.5px;line-height:15px;color:#2b2b2b">SEATIDE MARITIME</div><div class="b" style="left:5px;top:216px;width:288px;height:0;border-top:1px dashed #d2d2d2"></div>
<div class="t" style="left:5px;top:217.5px;line-height:15px;font-weight:bold;color:#1f1f1f">Voyage No:</div><div class="t" style="left:95px;top:217.5px;line-height:15px;color:#2b2b2b">1417</div><div class="b" style="left:5px;top:233px;width:288px;height:0;border-top:1px dashed #d2d2d2"></div>
<div class="t" style="left:5px;top:234.5px;line-height:15px;font-weight:bold;color:#1f1f1f">Cargo ID:</div><div class="t" style="left:95px;top:234.5px;line-height:15px;color:#2b2b2b">249</div><div class="b" style="left:5px;top:250px;width:288px;height:0;border-top:1px dashed #d2d2d2"></div>
<div class="t" style="left:5px;top:251.5px;line-height:15px;font-weight:bold;color:#1f1f1f">Load:</div><div class="t" style="left:95px;top:251.5px;line-height:15px;color:#2b2b2b">HAMBURG</div><div class="b" style="left:5px;top:267px;width:288px;height:0;border-top:1px dashed #d2d2d2"></div>
<div class="t" style="left:5px;top:268.5px;line-height:15px;font-weight:bold;color:#1f1f1f">Disc:</div><div class="t" style="left:95px;top:268.5px;line-height:15px;color:#2b2b2b">SANTOS</div><div class="b" style="left:5px;top:284px;width:288px;height:0;border-top:1px dashed #d2d2d2"></div>
</div>
<div class="b" style="left:5px;top:869px;width:16px;height:16px;background:#84adc1;"></div>
<div class="t" style="left:26px;top:869px;font-size:12px;line-height:16px;color:#222;">Canceled</div>
<div class="b" style="left:92px;top:869px;width:16px;height:16px;background:#f5ae33;"></div>
<div class="t" style="left:113px;top:869px;font-size:12px;line-height:16px;color:#222;">Scheduled</div>
<div class="b" style="left:185px;top:869px;width:16px;height:16px;background:#0bc583;"></div>
<div class="t" style="left:206px;top:869px;font-size:12px;line-height:16px;color:#222;">Commenced</div>
<div class="b" style="left:290px;top:869px;width:16px;height:16px;background:#1ab3c7;"></div>
<div class="t" style="left:311px;top:869px;font-size:12px;line-height:16px;color:#222;">Completed</div>
<div class="b" style="left:385px;top:869px;width:16px;height:16px;background:#8f8f8f;"></div>
<div class="t" style="left:406px;top:869px;font-size:12px;line-height:16px;color:#222;">Closed</div>
<div class="b" style="left:459px;top:869px;width:16px;height:16px;background:#1e4d8f;"></div>
<div class="t" style="left:480px;top:869px;font-size:12px;line-height:16px;color:#222;">Estimate</div>
<div class="t" style="left:1298px;top:870.5px;font-size:12px;line-height:16px;color:#2f5f80;font-weight:bold;">Week</div>
<div class="t" style="left:1363px;top:870.5px;font-size:12px;line-height:16px;color:#2f5f80;font-weight:bold;">100%</div>
<svg style="left:1333px;top:873.5px" width="12" height="8"><path d="M0 1 L11 1 L5.5 7Z" fill="#2f6485"/></svg>
<svg style="left:1398px;top:873.5px" width="12" height="8"><path d="M0 1 L11 1 L5.5 7Z" fill="#2f6485"/></svg>
<div class="b" style="left:1353px;top:868px;width:1px;height:21px;background:#d8d8d8;"></div>
</main>
<aside class="b" style="left:1493px;top:40px;width:387px;height:897px;background:#fff;border-left:1px solid #cfcfcf">
<div class="t" style="left:10px;top:6px;font-size:16px;line-height:20px;color:#000;font-weight:bold;transform:scaleX(1.13);transform-origin:0 50%;-webkit-text-stroke:0.4px #000;">Programs</div>
<svg style="left:0;top:0" width="40" height="80" viewBox="1494 40 40 80"><path d="M1510.3 92.2L1504.3 97.7L1510.3 103.5M1516 92.2L1510 97.7L1516 103.5" fill="none" stroke="#56616d" stroke-width="1.2"/></svg>
<div class="t" style="left:27px;top:48.5px;font-size:14px;line-height:18px;color:#4c7691;">Programs</div>
<div class="t" style="left:93.29999999999995px;top:48.5px;font-size:14px;line-height:18px;color:#4c7691;">/</div>
<div class="t" style="left:102px;top:48.5px;font-size:14px;line-height:18px;color:#1e1e1e;">Scheduling</div>
<div class="t" style="left:176.5px;top:48.5px;font-size:14px;line-height:18px;color:#4c7691;">/</div>
<div class="t" style="left:185px;top:48.5px;font-size:14px;line-height:18px;color:#4c7691;">Solution 1</div>
<div class="b" style="left:0;top:80px;width:386px;height:702px;overflow:hidden">
<div class="t" style="left:15px;top:15.5px;font-size:14px;line-height:18px;color:#222;">From Date</div>
<div class="t" style="left:183px;top:15.5px;font-size:14px;line-height:18px;color:#222;">To Date</div>
<div class="t" style="left:21px;top:38.5px;font-size:14px;line-height:18px;color:#222;">01/01/17</div>
<div class="t" style="left:189px;top:38.5px;font-size:14px;line-height:18px;color:#222;">12/31/17</div>
<div class="b" style="left:15px;top:59px;width:144px;height:1px;background:#c9c9c9;"></div>
<div class="b" style="left:183px;top:59px;width:143px;height:1px;background:#c9c9c9;"></div>
<svg style="left:164px;top:42px" width="13" height="14" viewBox="0 0 13 14"><rect x=".5" y="1.5" width="11" height="11.3" fill="#fff" stroke="#555"/><path d="M0 0L1.5 1H10.5L12 0V3.4H0Z" fill="#111"/><path d="M4.3 5.6h3.6M9 5.6h1.2M1.8 8.1h1M4.3 8.1h3.6M9 8.1h1.2M1.8 10.5h1M4.3 10.5h3.6" stroke="#2a2a3a" stroke-width="1.4" stroke-dasharray="1.2 1.2"/></svg><svg style="left:332px;top:42px" width="13" height="14" viewBox="0 0 13 14"><rect x=".5" y="1.5" width="11" height="11.3" fill="#fff" stroke="#555"/><path d="M0 0L1.5 1H10.5L12 0V3.4H0Z" fill="#111"/><path d="M4.3 5.6h3.6M9 5.6h1.2M1.8 8.1h1M4.3 8.1h3.6M9 8.1h1.2M1.8 10.5h1M4.3 10.5h3.6" stroke="#2a2a3a" stroke-width="1.4" stroke-dasharray="1.2 1.2"/></svg>
<div class="t" style="left:15px;top:71.5px;font-size:14px;line-height:18px;color:#222;">Optimizer Basis</div>
<div class="t" style="left:21px;top:93.5px;font-size:14px;line-height:18px;color:#222;">Percent of Laycans Met</div>
<svg style="left:330px;top:102px" width="10" height="5"><path d="M0 0 L10 0 L5 5Z" fill="#8c8c8c"/></svg>
<div class="b" style="left:15px;top:115px;width:335px;height:1px;background:#c9c9c9;"></div>
<div class="t" style="left:15px;top:127.5px;font-size:14px;line-height:18px;color:#222;">Vessel Name</div>
<div class="b" style="left:20px;top:156px;width:111px;height:21px;background:#2f6181;border-radius:2px"><div class="t" style="left:5px;top:3px;width:10px;text-align:center;font-size:11px;line-height:17px;font-weight:bold;color:#e9eff3">×</div><div class="b" style="left:18px;top:0;width:1px;height:21px;background:#2c5d7d"></div><div class="t" style="left:24px;top:2px;font-size:14px;line-height:19px;letter-spacing:-0.85px;color:#f1f5f8">MV AKTAIA</div></div>
<div class="b" style="left:136px;top:156px;width:131px;height:21px;background:#2f6181;border-radius:2px"><div class="t" style="left:5px;top:3px;width:10px;text-align:center;font-size:11px;line-height:17px;font-weight:bold;color:#e9eff3">×</div><div class="b" style="left:18px;top:0;width:1px;height:21px;background:#2c5d7d"></div><div class="t" style="left:24px;top:2px;font-size:14px;line-height:19px;letter-spacing:-0.85px;color:#f1f5f8">MV BELISAMA</div></div>
<div class="b" style="left:20px;top:182px;width:126px;height:21px;background:#2f6181;border-radius:2px"><div class="t" style="left:5px;top:3px;width:10px;text-align:center;font-size:11px;line-height:17px;font-weight:bold;color:#e9eff3">×</div><div class="b" style="left:18px;top:0;width:1px;height:21px;background:#2c5d7d"></div><div class="t" style="left:24px;top:2px;font-size:14px;line-height:19px;letter-spacing:-0.85px;color:#f1f5f8">MV CALYPSO</div></div>
<div class="b" style="left:151px;top:182px;width:121px;height:21px;background:#2f6181;border-radius:2px"><div class="t" style="left:5px;top:3px;width:10px;text-align:center;font-size:11px;line-height:17px;font-weight:bold;color:#e9eff3">×</div><div class="b" style="left:18px;top:0;width:1px;height:21px;background:#2c5d7d"></div><div class="t" style="left:24px;top:2px;font-size:14px;line-height:19px;letter-spacing:-0.85px;color:#f1f5f8">MV DAPHNE</div></div>
<div class="b" style="left:20px;top:208px;width:104px;height:21px;background:#2f6181;border-radius:2px"><div class="t" style="left:5px;top:3px;width:10px;text-align:center;font-size:11px;line-height:17px;font-weight:bold;color:#e9eff3">×</div><div class="b" style="left:18px;top:0;width:1px;height:21px;background:#2c5d7d"></div><div class="t" style="left:24px;top:2px;font-size:14px;line-height:19px;letter-spacing:-0.85px;color:#f1f5f8">MV ECHO</div></div>
<div class="b" style="left:129px;top:208px;width:129px;height:21px;background:#2f6181;border-radius:2px"><div class="t" style="left:5px;top:3px;width:10px;text-align:center;font-size:11px;line-height:17px;font-weight:bold;color:#e9eff3">×</div><div class="b" style="left:18px;top:0;width:1px;height:21px;background:#2c5d7d"></div><div class="t" style="left:24px;top:2px;font-size:14px;line-height:19px;letter-spacing:-0.85px;color:#f1f5f8">MV FORTUNA</div></div>
<div class="b" style="left:20px;top:234px;width:125px;height:21px;background:#2f6181;border-radius:2px"><div class="t" style="left:5px;top:3px;width:10px;text-align:center;font-size:11px;line-height:17px;font-weight:bold;color:#e9eff3">×</div><div class="b" style="left:18px;top:0;width:1px;height:21px;background:#2c5d7d"></div><div class="t" style="left:24px;top:2px;font-size:14px;line-height:19px;letter-spacing:-0.85px;color:#f1f5f8">MV GALATEA</div></div>
<div class="b" style="left:150px;top:234px;width:118px;height:21px;background:#2f6181;border-radius:2px"><div class="t" style="left:5px;top:3px;width:10px;text-align:center;font-size:11px;line-height:17px;font-weight:bold;color:#e9eff3">×</div><div class="b" style="left:18px;top:0;width:1px;height:21px;background:#2c5d7d"></div><div class="t" style="left:24px;top:2px;font-size:14px;line-height:19px;letter-spacing:-0.85px;color:#f1f5f8">MV HELENA</div></div>
<div class="b" style="left:20px;top:260px;width:92px;height:21px;background:#2f6181;border-radius:2px"><div class="t" style="left:5px;top:3px;width:10px;text-align:center;font-size:11px;line-height:17px;font-weight:bold;color:#e9eff3">×</div><div class="b" style="left:18px;top:0;width:1px;height:21px;background:#2c5d7d"></div><div class="t" style="left:24px;top:2px;font-size:14px;line-height:19px;letter-spacing:-0.85px;color:#f1f5f8">MV IRIS</div></div>
<div class="b" style="left:117px;top:260px;width:102px;height:21px;background:#2f6181;border-radius:2px"><div class="t" style="left:5px;top:3px;width:10px;text-align:center;font-size:11px;line-height:17px;font-weight:bold;color:#e9eff3">×</div><div class="b" style="left:18px;top:0;width:1px;height:21px;background:#2c5d7d"></div><div class="t" style="left:24px;top:2px;font-size:14px;line-height:19px;letter-spacing:-0.85px;color:#f1f5f8">MV JUNO</div></div>
<div class="b" style="left:20px;top:286px;width:122px;height:21px;background:#2f6181;border-radius:2px"><div class="t" style="left:5px;top:3px;width:10px;text-align:center;font-size:11px;line-height:17px;font-weight:bold;color:#e9eff3">×</div><div class="b" style="left:18px;top:0;width:1px;height:21px;background:#2c5d7d"></div><div class="t" style="left:24px;top:2px;font-size:14px;line-height:19px;letter-spacing:-0.85px;color:#f1f5f8">MV MELISSA</div></div>
<div class="b" style="left:147px;top:286px;width:116px;height:21px;background:#2f6181;border-radius:2px"><div class="t" style="left:5px;top:3px;width:10px;text-align:center;font-size:11px;line-height:17px;font-weight:bold;color:#e9eff3">×</div><div class="b" style="left:18px;top:0;width:1px;height:21px;background:#2c5d7d"></div><div class="t" style="left:24px;top:2px;font-size:14px;line-height:19px;letter-spacing:-0.85px;color:#f1f5f8">MV PHOIBE</div></div>
<svg style="left:330px;top:238px" width="10" height="5"><path d="M0 0 L10 0 L5 5Z" fill="#8c8c8c"/></svg>
<div class="b" style="left:15px;top:332px;width:335px;height:1px;background:#c9c9c9;"></div>
<div class="t" style="left:15px;top:344.5px;font-size:14px;line-height:18px;color:#222;">Cargo Short Name</div>
<div class="t" style="left:21px;top:366.5px;font-size:14px;line-height:18px;color:#222;">Select...</div>
<svg style="left:330px;top:377px" width="10" height="5"><path d="M0 0 L10 0 L5 5Z" fill="#8c8c8c"/></svg>
<div class="b" style="left:15px;top:393px;width:335px;height:1px;background:#c9c9c9;"></div>
<div class="t" style="left:15px;top:405.5px;font-size:14px;line-height:18px;color:#222;">Load Port</div>
<div class="t" style="left:21px;top:427.5px;font-size:14px;line-height:18px;color:#222;">Select...</div>
<svg style="left:330px;top:438px" width="10" height="5"><path d="M0 0 L10 0 L5 5Z" fill="#8c8c8c"/></svg>
<div class="b" style="left:15px;top:454px;width:335px;height:1px;background:#c9c9c9;"></div>
<div class="t" style="left:15px;top:466.5px;font-size:14px;line-height:18px;color:#222;">Discharge Port</div>
<div class="t" style="left:21px;top:488.5px;font-size:14px;line-height:18px;color:#222;">Select...</div>
<svg style="left:330px;top:499px" width="10" height="5"><path d="M0 0 L10 0 L5 5Z" fill="#8c8c8c"/></svg>
<div class="b" style="left:15px;top:515px;width:335px;height:1px;background:#c9c9c9;"></div>
<div class="t" style="left:15px;top:527.5px;font-size:14px;line-height:18px;color:#222;">Vessel Type</div>
<div class="t" style="left:21px;top:549.5px;font-size:14px;line-height:18px;color:#222;">Select...</div>
<svg style="left:330px;top:560px" width="10" height="5"><path d="M0 0 L10 0 L5 5Z" fill="#8c8c8c"/></svg>
<div class="b" style="left:15px;top:576px;width:335px;height:1px;background:#c9c9c9;"></div>
<div class="t" style="left:15px;top:588.5px;font-size:14px;line-height:18px;color:#222;">Company Code</div>
<div class="t" style="left:21px;top:610.5px;font-size:14px;line-height:18px;color:#222;">Select...</div>
<svg style="left:330px;top:621px" width="10" height="5"><path d="M0 0 L10 0 L5 5Z" fill="#8c8c8c"/></svg>
<div class="b" style="left:15px;top:637px;width:335px;height:1px;background:#c9c9c9;"></div>
<div class="t" style="left:15px;top:649.5px;font-size:14px;line-height:18px;color:#222;">Cargo Book Template</div>
<svg style="left:330.5px;top:650.5px" width="19" height="14" viewBox="121 109.5 19 14" fill="none" stroke="#2f5d7d" stroke-width="1.2" stroke-linecap="round"><path d="M123.2 117.4A7.4 7.4 0 0 1 137.9 117.6Q137.9 120.4 136.6 122.5"/><path d="M121.5 122.5H139"/><path d="M120.8 114.2L123.2 117.8L126.5 115.4" stroke-width="1.4"/></svg>
<div class="b" style="left:15px;top:671px;width:335px;height:60px;border:1px solid #c9c9c9;background:#fff"></div>
<div class="t" style="left:20px;top:674.5px;font-size:14px;line-height:18px;color:#222;">@LaycanFromLocal@</div>
<div class="t" style="left:20px;top:690.5px;font-size:14px;line-height:18px;color:#222;">@LaycanToLocal@</div>
<div class="b" style="left:365px;top:0px;width:17px;height:702px;background:#f1f1f1;"></div>
<div class="b" style="left:367px;top:16px;width:13px;height:364px;background:#c1c1c1;"></div>
<svg style="left:365px;top:0" width="17" height="702"><path d="M5 10 L8.5 6 L12 10Z" fill="#a3a3a3"/><path d="M5 692 L8.5 696 L12 692Z" fill="#505050"/></svg>
</div>
<div class="b" style="left:10px;top:816px;width:366px;height:28px;background:#2f6482;border-radius:2px"></div>
<div class="t" style="left:10px;top:820.5px;font-size:14px;line-height:18px;color:#f3f6f8;width:366px;text-align:center;">Optimize Schedule</div>
<div class="b" style="left:8px;top:847px;width:370px;height:31px;background:#2f6482"></div>
<div class="b" style="left:10px;top:849px;width:1px;height:1px;background:#9fb9c8;"></div><div class="b" style="left:10px;top:875px;width:1px;height:1px;background:#9fb9c8;"></div><div class="b" style="left:374px;top:849px;width:1px;height:1px;background:#9fb9c8;"></div><div class="b" style="left:374px;top:875px;width:1px;height:1px;background:#9fb9c8;"></div>
<div class="t" style="left:8px;top:853.7px;font-size:14px;line-height:18px;color:#f3f6f8;width:370px;text-align:center;">Apply Changes</div>
</aside>
<div class="b" style="left:1880px;top:40px;width:40px;height:897px;background:#30637f">
<div class="b" style="left:0px;top:0px;width:40px;height:40px;background:#2f6480;"></div>
<div class="b" style="left:0px;top:40px;width:40px;height:40px;background:#1f4e6e;"></div>
<svg style="left:0;top:0" width="40" height="120" viewBox="0 0 40 120">
<path d="M21 14.5L15.5 19.6L21 24.7M26 14.5L20.5 19.6L26 24.7" fill="none" stroke="#e3ecf2" stroke-width="1.2"/>
<path d="M27.55 58.73 L29.99 58.78 L29.99 61.62 L27.55 61.67 L26.53 64.14 L28.22 65.91 L26.21 67.92 L24.44 66.23 L21.97 67.25 L21.92 69.69 L19.08 69.69 L19.03 67.25 L16.56 66.23 L14.79 67.92 L12.78 65.91 L14.47 64.14 L13.45 61.67 L11.01 61.62 L11.01 58.78 L13.45 58.73 L14.47 56.26 L12.78 54.49 L14.79 52.48 L16.56 54.17 L19.03 53.15 L19.08 50.71 L21.92 50.71 L21.97 53.15 L24.44 54.17 L26.21 52.48 L28.22 54.49 L26.53 56.26Z M23.2 60.2 A2.7 2.7 0 1 0 17.8 60.2 A2.7 2.7 0 1 0 23.2 60.2Z" fill="#e9eef3" fill-rule="evenodd" stroke="#e9eef3" stroke-width="1" stroke-linejoin="round"/>
</svg>
</div>
</div></body></html>
